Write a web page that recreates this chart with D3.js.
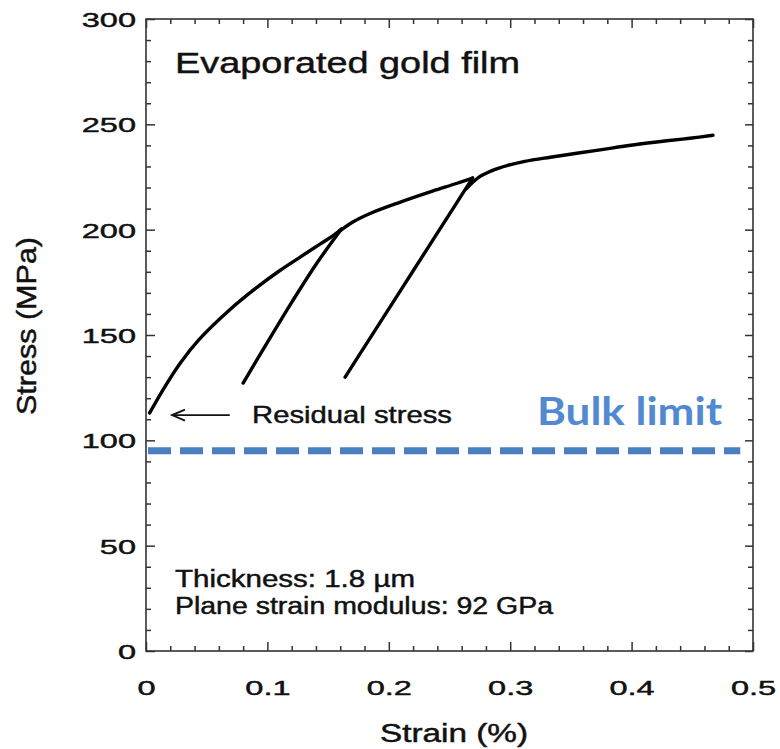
<!DOCTYPE html>
<html>
<head>
<meta charset="utf-8">
<script src="https://cdn.jsdelivr.net/npm/d3@7/dist/d3.min.js"></script>
<style>
  html, body { margin: 0; padding: 0; background: #fff; }
  svg { display: block; }
  text { font-family: "Liberation Sans", Arial, Helvetica, sans-serif; fill: #111; }
  text.ink { stroke: #111; stroke-width: 0.45px; }
</style>
</head>
<body>
<svg id="chart" width="780" height="749"></svg>
<script>
// Stress–strain record of an evaporated gold film: loading envelope in three pieces
// (each reload rejoins the envelope just below the previous peak) and two unloading lines.
const load1Strain = [0.003, 0.014, 0.028, 0.044, 0.069, 0.090, 0.110, 0.127, 0.143, 0.155, 0.161];
const load1Stress = [113, 124, 136.5, 148, 162, 172, 180.5, 187, 193, 197.5, 200.3];

const load2Strain = [0.157, 0.170, 0.185, 0.209, 0.236, 0.255, 0.269];
const load2Stress = [198.2, 203.5, 207.8, 213, 218.3, 221.8, 224.5];

const load3Strain = [0.264, 0.274, 0.285, 0.298, 0.312, 0.333, 0.374, 0.401, 0.429, 0.448, 0.467];
const load3Stress = [219.5, 224.8, 228, 230.5, 232.4, 234.4, 237.9, 240.2, 242.2, 243.4, 244.8];

const unload1Strain = [0.080, 0.100, 0.120, 0.140, 0.161];
const unload1Stress = [127.2, 146.5, 165.5, 183.5, 200.3];

const unload2Strain = [0.164, 0.188, 0.212, 0.236, 0.255, 0.269];
const unload2Stress = [130, 151.6, 173.2, 194.8, 211.9, 224.5];

const bulkLimit = 95;
const residualStress = 112;

const strainTicks = [0, 0.1, 0.2, 0.3, 0.4, 0.5];
const strainTickLabels = ["0", "0.1", "0.2", "0.3", "0.4", "0.5"];
const stressTicks = [0, 50, 100, 150, 200, 250, 300];
const stressTickLabels = ["0", "50", "100", "150", "200", "250", "300"];

const svg = d3.select("#chart");
const plotLeft = 146, plotRight = 753, plotTop = 19, plotBottom = 651;

const x = d3.scaleLinear().domain([0, 0.5]).range([plotLeft, plotRight]);
const y = d3.scaleLinear().domain([0, 300]).range([plotBottom, plotTop]);

const axisColor = "#333";

// frame
svg.append("rect")
  .attr("x", plotLeft).attr("y", plotTop)
  .attr("width", plotRight - plotLeft).attr("height", plotBottom - plotTop)
  .attr("fill", "none").attr("stroke", axisColor).attr("stroke-width", 1.6);

const minorX = d3.range(0, 0.5001, 0.02).filter(v => Math.abs(v * 10 - Math.round(v * 10)) > 1e-6);
const minorY = d3.range(0, 300.01, 10).filter(v => v % 50 !== 0);

function styleAxis(g) {
  g.select(".domain").remove();
  g.selectAll(".tick line").attr("stroke", axisColor).attr("stroke-width", 1.5);
}

// inward ticks on all four sides
svg.append("g").attr("transform", `translate(0,${plotBottom})`)
  .call(d3.axisBottom(x).tickValues(minorX).tickSize(-5).tickFormat("")).call(styleAxis);
svg.append("g").attr("transform", `translate(0,${plotTop})`)
  .call(d3.axisTop(x).tickValues(minorX).tickSize(-5).tickFormat("")).call(styleAxis);
svg.append("g").attr("transform", `translate(0,${plotTop})`)
  .call(d3.axisTop(x).tickValues(strainTicks).tickSize(-9).tickFormat("")).call(styleAxis);
svg.append("g").attr("transform", `translate(${plotLeft},0)`)
  .call(d3.axisLeft(y).tickValues(minorY).tickSize(-5).tickFormat("")).call(styleAxis);
svg.append("g").attr("transform", `translate(${plotRight},0)`)
  .call(d3.axisRight(y).tickValues(minorY).tickSize(-5).tickFormat("")).call(styleAxis);
svg.append("g").attr("transform", `translate(${plotRight},0)`)
  .call(d3.axisRight(y).tickValues(stressTicks).tickSize(-8).tickFormat("")).call(styleAxis);

const labelScale = 1.55;

const xAxis = svg.append("g").attr("transform", `translate(0,${plotBottom})`)
  .call(d3.axisBottom(x).tickValues(strainTicks).tickSize(-9)
    .tickFormat((d, i) => strainTickLabels[i]));
styleAxis(xAxis);
xAxis.selectAll(".tick text")
  .attr("class", "ink")
  .attr("y", 44).attr("dy", 0)
  .attr("font-size", 21)
  .attr("transform", `scale(${labelScale},1)`)
  .style("font-family", "Liberation Sans, Arial, sans-serif")
  .attr("fill", "#111");

const yAxis = svg.append("g").attr("transform", `translate(${plotLeft},0)`)
  .call(d3.axisLeft(y).tickValues(stressTicks).tickSize(-9)
    .tickFormat((d, i) => stressTickLabels[i]));
styleAxis(yAxis);
yAxis.selectAll(".tick text")
  .attr("class", "ink")
  .attr("x", -10 / labelScale).attr("dy", "0.36em")
  .attr("font-size", 21)
  .attr("transform", `scale(${labelScale},1)`)
  .style("font-family", "Liberation Sans, Arial, sans-serif")
  .attr("fill", "#111");

// curves
const line = d3.line().x(d => x(d[0])).y(d => y(d[1])).curve(d3.curveCatmullRom.alpha(0.5));
const series = [
  d3.zip(load1Strain, load1Stress),
  d3.zip(load2Strain, load2Stress),
  d3.zip(load3Strain, load3Stress),
  d3.zip(unload1Strain, unload1Stress),
  d3.zip(unload2Strain, unload2Stress)
];
svg.append("g").selectAll("path").data(series).join("path")
  .attr("d", line)
  .attr("fill", "none")
  .attr("stroke", "#000")
  .attr("stroke-width", 3.4)
  .attr("stroke-linecap", "round")
  .attr("stroke-linejoin", "round");

// bulk limit
svg.append("line")
  .attr("x1", x(0) + 2).attr("x2", x(0.4895))
  .attr("y1", y(bulkLimit)).attr("y2", y(bulkLimit))
  .attr("stroke", "#4a7ebf").attr("stroke-width", 7)
  .attr("stroke-dasharray", "23 9");

svg.append("text")
  .attr("x", 537).attr("y", 425)
  .attr("textLength", 185).attr("lengthAdjust", "spacingAndGlyphs")
  .style("font-family", "Lato, 'Open Sans', sans-serif")
  .style("font-weight", 700)
  .attr("font-size", 39)
  .style("fill", "#5189d3")
  .text("Bulk limit");

// residual stress arrow
const ay = y(residualStress);
const ax0 = x(0.0214), ax1 = x(0.069);
svg.append("line").attr("x1", ax0).attr("x2", ax1).attr("y1", ay).attr("y2", ay)
  .attr("stroke", "#111").attr("stroke-width", 1.8);
svg.append("path")
  .attr("d", `M${ax0 + 13},${ay - 5.5} L${ax0},${ay} L${ax0 + 13},${ay + 5.5}`)
  .attr("fill", "none").attr("stroke", "#111").attr("stroke-width", 1.8);

svg.append("text").attr("class", "ink").attr("x", 252).attr("y", 423)
  .attr("font-size", 24).attr("textLength", 200).attr("lengthAdjust", "spacingAndGlyphs")
  .text("Residual stress");

// titles and notes
svg.append("text").attr("class", "ink").attr("x", 175).attr("y", 73)
  .attr("font-size", 30).attr("textLength", 345).attr("lengthAdjust", "spacingAndGlyphs")
  .text("Evaporated gold film");

svg.append("text").attr("class", "ink").attr("x", 175).attr("y", 587)
  .attr("font-size", 23).attr("textLength", 240).attr("lengthAdjust", "spacingAndGlyphs")
  .text("Thickness: 1.8 µm");

svg.append("text").attr("class", "ink").attr("x", 175).attr("y", 614)
  .attr("font-size", 23).attr("textLength", 378).attr("lengthAdjust", "spacingAndGlyphs")
  .text("Plane strain modulus: 92 GPa");

// axis titles
svg.append("text").attr("class", "ink").attr("x", 380).attr("y", 742)
  .attr("font-size", 25).attr("textLength", 148).attr("lengthAdjust", "spacingAndGlyphs")
  .text("Strain (%)");

svg.append("text").attr("class", "ink")
  .attr("transform", "translate(36,326) rotate(-90)")
  .attr("text-anchor", "middle")
  .attr("font-size", 28).attr("textLength", 178).attr("lengthAdjust", "spacingAndGlyphs")
  .text("Stress (MPa)");
</script>
</body>
</html>
